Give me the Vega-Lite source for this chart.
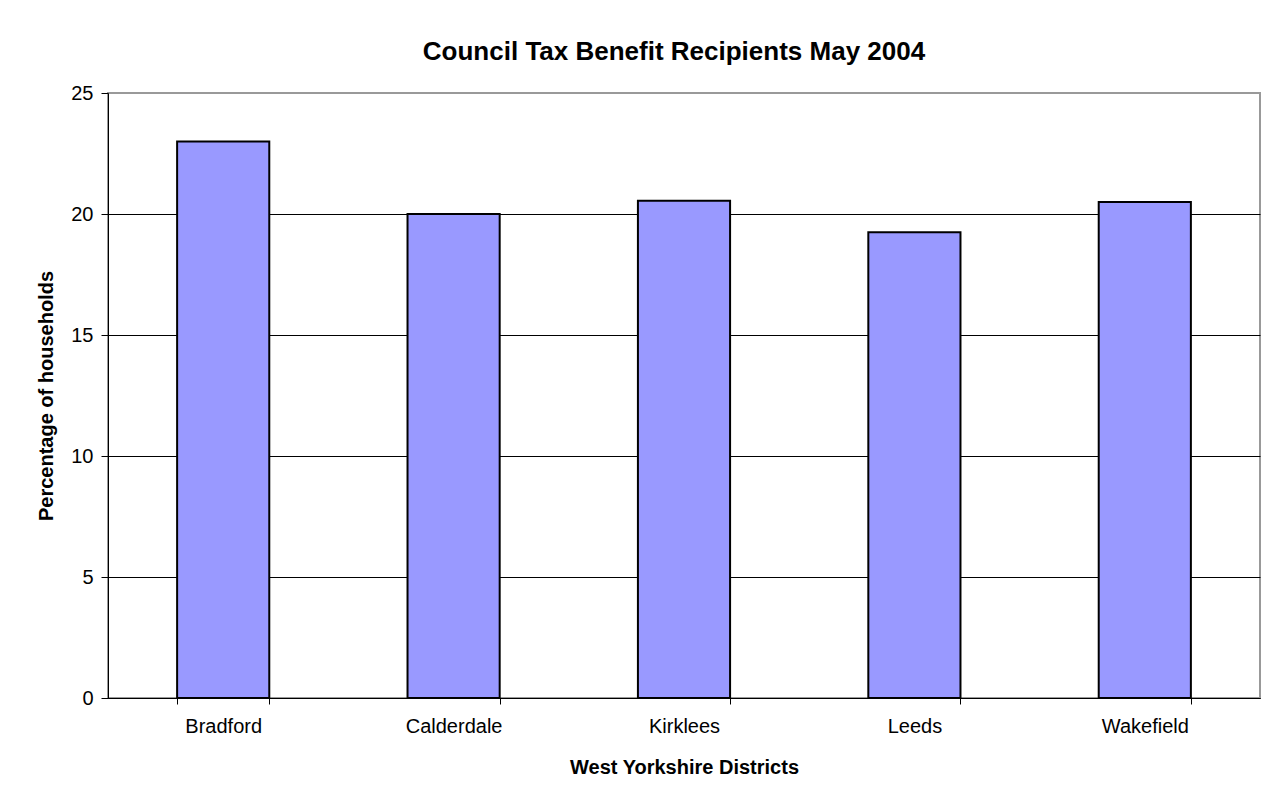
{
  "$schema": "https://vega.github.io/schema/vega-lite/v6.json",
  "autosize": "none",
  "padding": {"left": 108, "top": 93, "right": 4, "bottom": 98},
  "width": 1152,
  "height": 605,
  "background": "white",
  "title": {
    "text": "Council Tax Benefit Recipients May 2004",
    "anchor": "middle",
    "frame": "group",
    "dx": -10,
    "offset": -8,
    "baseline": "bottom",
    "font": "Liberation Sans",
    "fontSize": 26,
    "fontWeight": "bold",
    "color": "black"
  },
  "data": {
    "values": [
      {"district": "Bradford", "pct": 23.0},
      {"district": "Calderdale", "pct": 20.0},
      {"district": "Kirklees", "pct": 20.55},
      {"district": "Leeds", "pct": 19.25},
      {"district": "Wakefield", "pct": 20.5}
    ]
  },
  "mark": {"type": "bar", "fill": "#9999FF", "stroke": "black", "strokeWidth": 2},
  "encoding": {
    "x": {
      "field": "district",
      "type": "nominal",
      "sort": null,
      "title": "West Yorkshire Districts",
      "scale": {"paddingInner": 0.6, "paddingOuter": 0.3},
      "axis": {
        "labelAngle": 0,
        "tickBand": "extent",
        "tickSize": 6,
        "labelPadding": 12,
        "titlePadding": 21,
        "domainColor": "black",
        "tickColor": "black"
      }
    },
    "y": {
      "field": "pct",
      "type": "quantitative",
      "title": "Percentage of households",
      "scale": {"domain": [0, 25], "nice": false},
      "axis": {
        "values": [0, 5, 10, 15, 20, 25],
        "tickSize": 7,
        "labelPadding": 8,
        "titlePadding": 14,
        "grid": true,
        "gridColor": {"condition": {"test": "datum.value == 25", "value": "#999999"}, "value": "black"},
        "gridOpacity": 1,
        "domainColor": "black",
        "tickColor": "black"
      }
    }
  },
  "config": {
    "view": {"stroke": "#999999", "strokeWidth": 2},
    "axis": {
      "labelFont": "Liberation Sans",
      "labelFontSize": 20,
      "labelColor": "black",
      "titleFont": "Liberation Sans",
      "titleFontSize": 20,
      "titleFontWeight": "bold",
      "titleColor": "black",
      "domainWidth": 1,
      "tickWidth": 1,
      "gridWidth": 1
    }
  }
}
